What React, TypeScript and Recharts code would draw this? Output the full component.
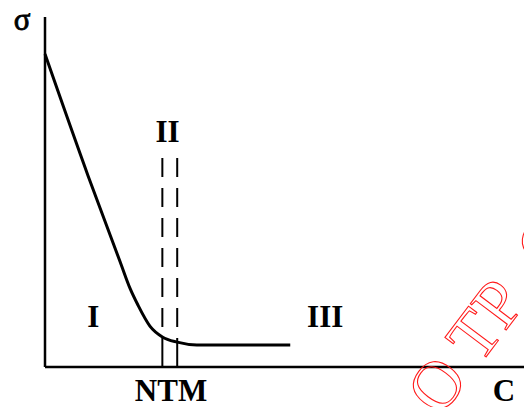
import { LineChart, Line, XAxis, YAxis, ReferenceLine, ReferenceDot } from 'recharts';

// Stress (σ) against concentration (C), both on a 0–100 scale
const concValues = [0, 9, 15.7, 17.8, 19.4, 21.9, 24.5, 27.6, 31.7, 51.2];
const sigmaValues = [89.4, 54.6, 30.0, 22.3, 17.7, 11.7, 8.6, 7.1, 6.3, 6.3];

// Bounds of region II around the NTM point
const ntmBounds = [24.5, 27.6];
const ntmTop = 59.7;
const ntmCenter = 26.3;

const regionLabels = [
  { text: 'I', c: 10.1, sigma: 11.4 },
  { text: 'II', c: 25.6, sigma: 64.3 },
  { text: 'III', c: 58.5, sigma: 11.4 },
];

const data = concValues.map((c, i) => ({ c, sigma: sigmaValues[i] }));

const labelFont = {
  fontFamily: '"Liberation Serif", "Times New Roman", serif',
  fontWeight: 700,
  fontSize: 31,
  fill: '#000',
};

function sigmaAt(c: number): number {
  const i = concValues.indexOf(c);
  return sigmaValues[i];
}

function NtmTick(props: any) {
  return (
    <text x={props.x} y={367 + 34} textAnchor="middle" {...labelFont}>
      NTM
    </text>
  );
}

export default function App() {
  return (
    <div style={{ position: 'absolute', left: 0, top: 0, width: 524, height: 407, background: '#fff' }}>
      <LineChart width={524} height={407} data={data} margin={{ top: 17, right: 0, bottom: 0, left: 0 }}>
        <XAxis
          type="number"
          dataKey="c"
          domain={[0, 100]}
          ticks={[ntmCenter]}
          height={40}
          tickLine={false}
          tick={NtmTick}
          axisLine={{ stroke: '#000', strokeWidth: 2.5 }}
          label={{
            content: (p: any) => (
              <text x={p.viewBox.x + p.viewBox.width - 20} y={p.viewBox.y + 34} textAnchor="middle" {...labelFont}>
                C
              </text>
            ),
          }}
        />
        <YAxis
          type="number"
          domain={[0, 100]}
          width={45}
          tick={false}
          tickLine={false}
          axisLine={{ stroke: '#000', strokeWidth: 2.5 }}
          label={{
            content: (p: any) => (
              <text
                x={p.viewBox.x + p.viewBox.width - 23}
                y={p.viewBox.y + 13}
                textAnchor="middle"
                {...labelFont}
                fontWeight={400}
                stroke="#000"
                strokeWidth={0.8}
              >
                σ
              </text>
            ),
          }}
        />
        {ntmBounds.map((c) => (
          <ReferenceLine
            key={`d${c}`}
            segment={[{ x: c, y: ntmTop }, { x: c, y: sigmaAt(c) }]}
            stroke="#000"
            strokeWidth={2}
            strokeDasharray="19 11"
          />
        ))}
        {ntmBounds.map((c) => (
          <ReferenceLine
            key={`s${c}`}
            segment={[{ x: c, y: sigmaAt(c) }, { x: c, y: 0 }]}
            stroke="#000"
            strokeWidth={2}
          />
        ))}
        <Line
          type="monotone"
          dataKey="sigma"
          stroke="#000"
          strokeWidth={3}
          dot={false}
          isAnimationActive={false}
        />
        {regionLabels.map((r) => (
          <ReferenceDot
            key={r.text}
            x={r.c}
            y={r.sigma}
            r={0}
            stroke="none"
            label={{
              content: (p: any) => (
                <text x={p.viewBox.x} y={p.viewBox.y} textAnchor="middle" {...labelFont}>
                  {r.text}
                </text>
              ),
            }}
          />
        ))}
      </LineChart>
      <svg width={524} height={407} style={{ position: 'absolute', left: 0, top: 0, pointerEvents: 'none' }}>
        <text
          transform="translate(440,418) rotate(-53)"
          fontFamily='"Liberation Serif", serif'
          fontSize={68}
          fill="none"
          stroke="#ff1a1a"
          strokeWidth={1.1}
        >
          О ТР<tspan dx={34}>С</tspan>
        </text>
      </svg>
    </div>
  );
}
